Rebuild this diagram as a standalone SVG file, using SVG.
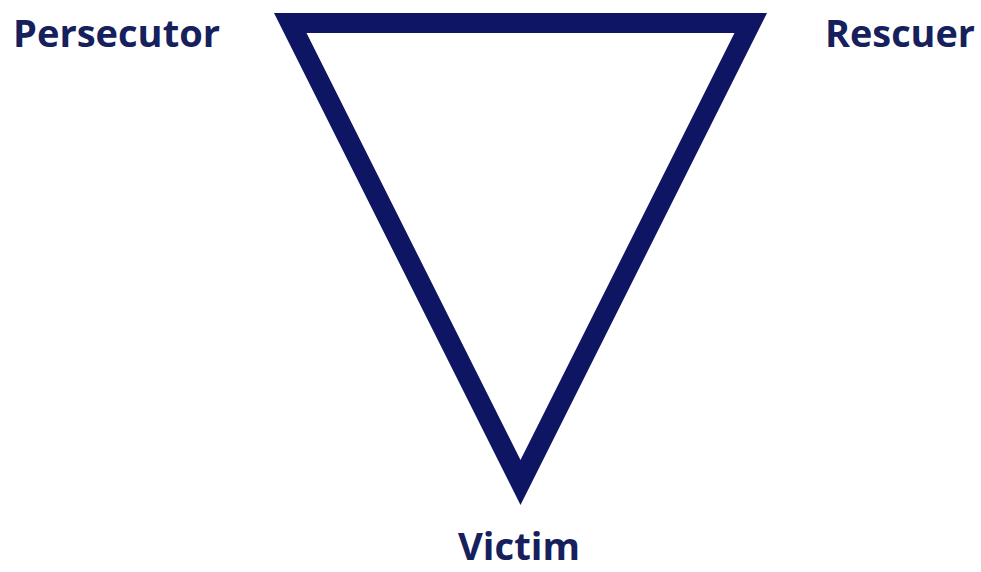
<svg xmlns="http://www.w3.org/2000/svg" width="981" height="572" viewBox="0 0 981 572">
<style>
.lbl{font-family:"Open Sans","Liberation Sans",sans-serif;font-weight:bold;font-size:37px;fill:#16205c}
</style>
<rect width="981" height="572" fill="#ffffff"/>
<g id="triangle">
<path d="M274,13 L767,13 L520.5,505 Z M306.5,33 L520.5,460 L734.5,33 Z" fill="#0e1562" fill-rule="evenodd"/>
</g>
<g id="persecutor"><text class="lbl" x="13" y="47" textLength="207" lengthAdjust="spacingAndGlyphs">Persecutor</text></g>
<g id="rescuer"><text class="lbl" x="825" y="47" textLength="150" lengthAdjust="spacingAndGlyphs">Rescuer</text></g>
<g id="victim"><text class="lbl" x="458" y="560" font-size="35" textLength="122" lengthAdjust="spacingAndGlyphs">Victim</text></g>
<g id="connectors"/>
</svg>
